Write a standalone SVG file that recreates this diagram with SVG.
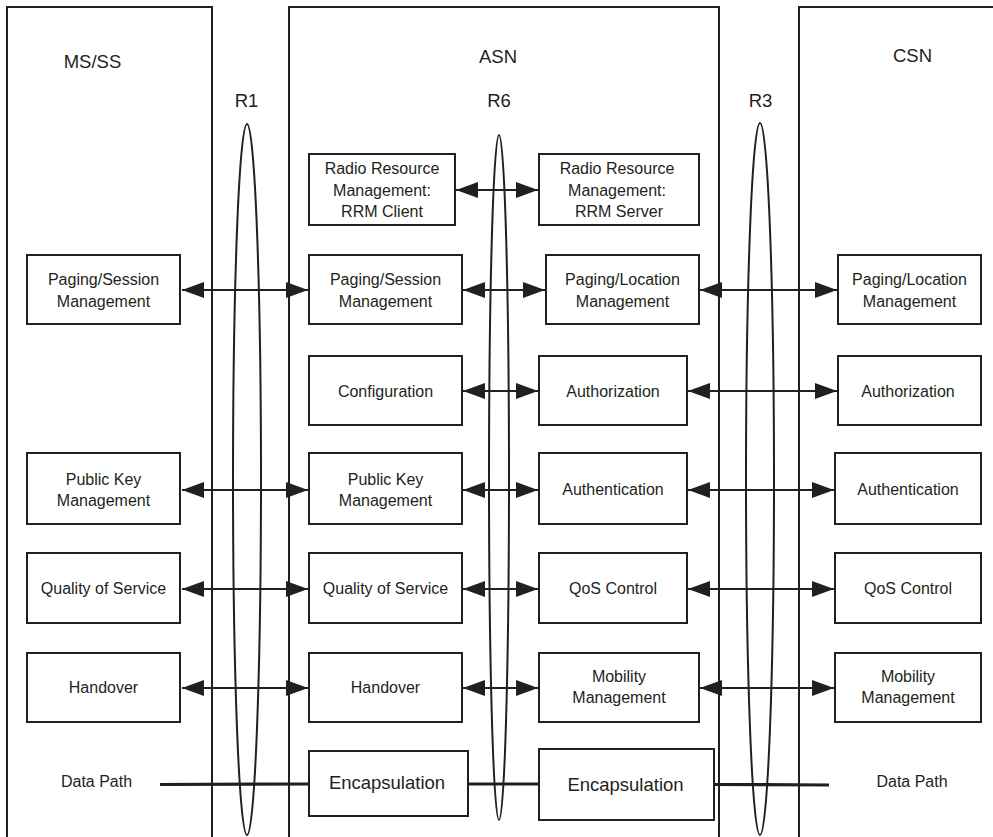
<svg xmlns="http://www.w3.org/2000/svg" width="993" height="837" viewBox="0 0 993 837">
<style>
  .frame{fill:none;stroke:#231f20;stroke-width:2}
  .box{fill:#fff;stroke:#231f20;stroke-width:2}
  .ell{fill:none;stroke:#231f20;stroke-width:2}
  .t{font-family:"Liberation Sans",Arial,sans-serif;font-size:16px;fill:#231f20;text-anchor:middle}
  .h{font-family:"Liberation Sans",Arial,sans-serif;font-size:18.5px;fill:#231f20;text-anchor:middle}
  .e{font-family:"Liberation Sans",Arial,sans-serif;font-size:18.5px;fill:#231f20;text-anchor:middle}
  .a{fill:none;stroke:#231f20;stroke-width:2.2;marker-start:url(#ah);marker-end:url(#ah)}
  .dp{fill:none;stroke:#231f20;stroke-width:3.2}
</style>
<defs>
  <marker id="ah" viewBox="0 0 22 16" refX="22" refY="8" markerWidth="22" markerHeight="16" markerUnits="userSpaceOnUse" orient="auto-start-reverse">
    <path d="M0,0 L22,8 L0,16 z" fill="#231f20"/>
  </marker>
</defs>
<rect width="993" height="837" fill="#fff"/>

<g id="domains">
  <g id="ms-ss"><rect class="frame" x="7" y="7" width="205" height="850"/><text class="h" x="92.5" y="68">MS/SS</text></g>
  <g id="asn"><rect class="frame" x="289" y="7" width="430" height="850"/><text class="h" x="498" y="63">ASN</text></g>
  <g id="csn"><rect class="frame" x="799" y="7" width="220" height="850"/><text class="h" x="912.5" y="62">CSN</text></g>
</g>

<g id="reference-points">
  <g id="r1"><text class="h" x="246.5" y="107">R1</text><ellipse class="ell" cx="247" cy="479.5" rx="14" ry="355.5"/></g>
  <g id="r6"><text class="h" x="499" y="107">R6</text><ellipse class="ell" cx="499" cy="477.5" rx="10" ry="342.5"/></g>
  <g id="r3"><text class="h" x="760.5" y="107">R3</text><ellipse class="ell" cx="760" cy="479" rx="14" ry="356"/></g>
</g>

<g id="connectors">
  <line class="a" x1="456" y1="190" x2="538" y2="190"/>
  <line class="a" x1="182" y1="290" x2="308" y2="290"/>
  <line class="a" x1="463" y1="290" x2="545" y2="290"/>
  <line class="a" x1="700" y1="290" x2="837" y2="290"/>
  <line class="a" x1="463" y1="391" x2="538" y2="391"/>
  <line class="a" x1="688" y1="391" x2="837" y2="391"/>
  <line class="a" x1="182" y1="490" x2="308" y2="490"/>
  <line class="a" x1="463" y1="490" x2="538" y2="490"/>
  <line class="a" x1="688" y1="490" x2="834" y2="490"/>
  <line class="a" x1="182" y1="589" x2="308" y2="589"/>
  <line class="a" x1="463" y1="589" x2="538" y2="589"/>
  <line class="a" x1="688" y1="589" x2="834" y2="589"/>
  <line class="a" x1="182" y1="688" x2="308" y2="688"/>
  <line class="a" x1="463" y1="688" x2="538" y2="688"/>
  <line class="a" x1="700" y1="688" x2="834" y2="688"/>
  <line class="dp" x1="160" y1="784.5" x2="309" y2="784"/>
  <line class="dp" x1="468" y1="784" x2="539" y2="784"/>
  <line class="dp" x1="714" y1="784.5" x2="829" y2="785"/>
</g>

<g id="ms-paging"><rect class="box" x="27" y="255" width="153" height="69"/><text class="t" x="103.5" y="285">Paging/Session</text><text class="t" x="103.5" y="307">Management</text></g>
<g id="ms-pkm"><rect class="box" x="27" y="453" width="153" height="71"/><text class="t" x="103.5" y="485">Public Key</text><text class="t" x="103.5" y="506">Management</text></g>
<g id="ms-qos"><rect class="box" x="27" y="553" width="153" height="70"/><text class="t" x="103.5" y="594">Quality of Service</text></g>
<g id="ms-ho"><rect class="box" x="27" y="653" width="153" height="69"/><text class="t" x="103.5" y="693">Handover</text></g>
<g id="ms-datapath"><text class="t" x="96.5" y="787">Data Path</text></g>

<g id="asn-rrm-client"><rect class="box" x="309" y="154" width="146" height="71"/><text class="t" x="382" y="174">Radio Resource</text><text class="t" x="382" y="196">Management:</text><text class="t" x="382" y="217">RRM Client</text></g>
<g id="asn-paging"><rect class="box" x="309" y="255" width="153" height="69"/><text class="t" x="385.5" y="285">Paging/Session</text><text class="t" x="385.5" y="307">Management</text></g>
<g id="asn-config"><rect class="box" x="309" y="356" width="153" height="69"/><text class="t" x="385.5" y="397">Configuration</text></g>
<g id="asn-pkm"><rect class="box" x="309" y="453" width="153" height="71"/><text class="t" x="385.5" y="485">Public Key</text><text class="t" x="385.5" y="506">Management</text></g>
<g id="asn-qos"><rect class="box" x="309" y="553" width="153" height="70"/><text class="t" x="385.5" y="594">Quality of Service</text></g>
<g id="asn-ho"><rect class="box" x="309" y="653" width="153" height="69"/><text class="t" x="385.5" y="693">Handover</text></g>
<g id="asn-encap-1"><rect class="box" x="309" y="751" width="159" height="65"/><text class="e" x="387" y="789">Encapsulation</text></g>

<g id="asn-rrm-server"><rect class="box" x="539" y="154" width="160" height="71"/><text class="t" x="617" y="174">Radio Resource</text><text class="t" x="617" y="196">Management:</text><text class="t" x="619" y="217">RRM Server</text></g>
<g id="asn-paging-location"><rect class="box" x="546" y="255" width="153" height="69"/><text class="t" x="622.5" y="285">Paging/Location</text><text class="t" x="622.5" y="307">Management</text></g>
<g id="asn-authorization"><rect class="box" x="539" y="356" width="148" height="69"/><text class="t" x="613" y="397">Authorization</text></g>
<g id="asn-authentication"><rect class="box" x="539" y="453" width="148" height="71"/><text class="t" x="613" y="495">Authentication</text></g>
<g id="asn-qos-control"><rect class="box" x="539" y="553" width="148" height="70"/><text class="t" x="613" y="594">QoS Control</text></g>
<g id="asn-mobility"><rect class="box" x="539" y="653" width="160" height="69"/><text class="t" x="619" y="682">Mobility</text><text class="t" x="619" y="703">Management</text></g>
<g id="asn-encap-2"><rect class="box" x="539" y="749" width="175" height="71"/><text class="e" x="625.5" y="791">Encapsulation</text></g>

<g id="csn-paging-location"><rect class="box" x="838" y="255" width="143" height="69"/><text class="t" x="909.5" y="285">Paging/Location</text><text class="t" x="909.5" y="307">Management</text></g>
<g id="csn-authorization"><rect class="box" x="838" y="356" width="143" height="69"/><text class="t" x="908" y="397">Authorization</text></g>
<g id="csn-authentication"><rect class="box" x="835" y="453" width="146" height="71"/><text class="t" x="908" y="495">Authentication</text></g>
<g id="csn-qos-control"><rect class="box" x="835" y="553" width="146" height="70"/><text class="t" x="908" y="594">QoS Control</text></g>
<g id="csn-mobility"><rect class="box" x="835" y="653" width="146" height="69"/><text class="t" x="908" y="682">Mobility</text><text class="t" x="908" y="703">Management</text></g>
<g id="csn-datapath"><text class="t" x="912" y="787">Data Path</text></g>
</svg>
